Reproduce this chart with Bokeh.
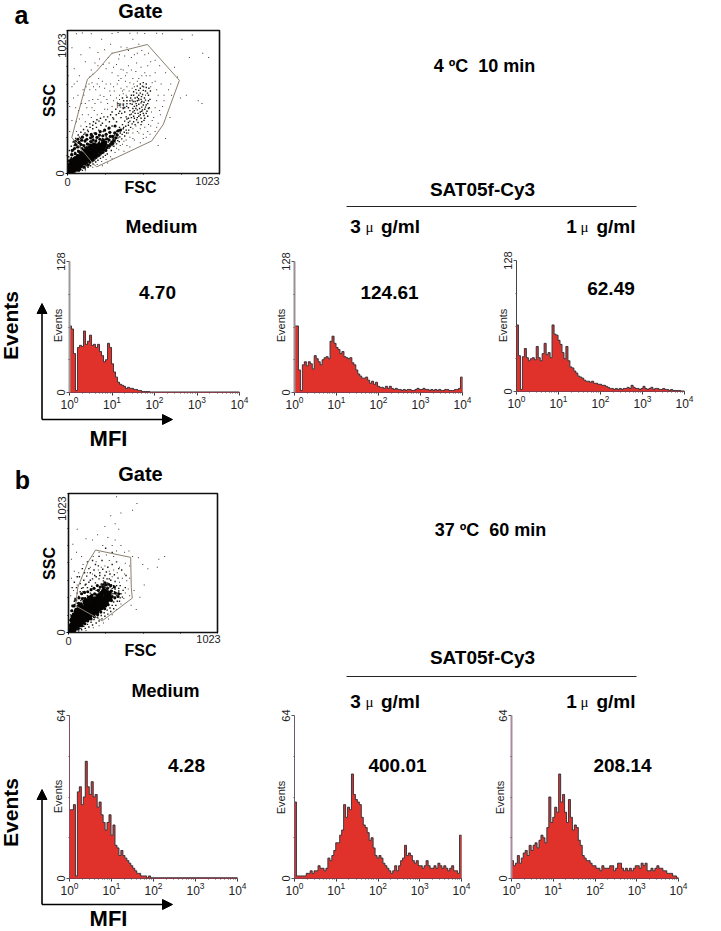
import math
from bokeh.plotting import figure
from bokeh.models import Label, Arrow, NormalHead, Range1d, FixedTicker, LogTicker
from bokeh.embed import file_html
from bokeh.resources import INLINE

FONT = "Liberation Sans"
RED = "#e0322b"
W, H = 721, 931

# ---------- histogram data (events per channel group, low to high MFI) ----------
a_medium = [65,62,38,2,44,46,45,60,47,50,56,46,47,44,47,40,36,30,32,48,44,28,20,15,10,8,7,6,4,5,4,4,3,3,2,2,1,1,1,1,0.5,0.5,0.5,0.5,0.5,0.5,0.5,0.5,0.5,0.5,0.5,0.5,0.5,0.5,0.5,0.5,0.5,0.5,0.5,0.5,0.5,0.5,0.5,0.5,0.5,0.5,0.5,0.5,0.5,0.5,0.5,0.5,0.5,0.5,0.5,0.5,0.5,0.5,0.5,0.5,0.5,0.5,0.5,0.5,0.5]
a_3ug = [65,65,22,2,27,30,26,30,28,23,36,33,30,27,32,34,35,33,50,55,48,44,42,38,40,35,34,33,34,29,27,22,18,16,14,14,15,12,9,11,8,10,6,5,5,4,6,4,6,4,3,4,3,3,2,3,2,3,3,2,2,3,4,3,3,4,3,3,2,3,2,3,2,3,2,2,3,3,2,2,2,3,3,4,15]
a_1ug = [65,35,2,34,42,33,30,32,33,31,44,33,30,37,47,36,38,33,65,56,55,50,46,38,32,44,30,24,23,20,18,15,14,13,11,10,10,9,10,8,8,7,7,6,6,5,4,3,3,2,3,2,3,2,3,3,4,3,6,4,3,3,2,3,5,3,2,3,4,2,3,3,2,2,3,2,2,1,2,1,1,1,1,0.5,0.5]
b_medium = [27,27,29,1,34,36,29,32,46,36,33,38,32,33,28,30,25,22,19,22,25,17,21,13,12,9,11,9,8,7,6,5,4,3,2,2,1,1,1,0.3,1,0.3,0.3,0.3,0.3,0.3,0.3,0.3,0.3,0.3,0.3,0.3,0.3,0.3,0.3,0.3,0.3,0.3,0.3,0.3,0.3,0.3,0.3,0.3,0.3,0.3,0.3,0.3,0.3,0.3,0.3,0.3,0.3,0.3,0.3,0.3,0.3,0.3,0.3,0.3,0.3,0.3,0.3,0.3,0.3]
b_3ug = [30,1,1,1,1,1,2,2,3,2,3,3,5,4,4,3,4,8,7,9,11,14,14,17,19,29,24,28,27,41,33,31,30,29,24,21,20,18,15,16,12,9,8,9,8,6,5,4,3,2,3,5,3,5,7,8,13,9,10,9,7,6,7,5,5,4,5,7,5,4,4,5,4,6,5,4,5,4,3,4,5,3,3,2,17]
b_1ug = [7,5,6,9,6,8,10,11,9,13,11,13,14,12,15,17,16,14,20,32,22,24,28,26,41,30,33,26,22,31,24,19,21,20,15,13,9,8,7,7,6,5,5,4,4,3,5,4,4,4,5,5,3,4,6,6,4,3,4,3,4,3,4,5,5,4,6,5,6,3,3,4,3,4,5,4,4,3,3,2,2,2,1,1,0.3]

# ---------- gate data: FSC, SSC pairs ----------
a_core = [(15,15),(30,20),(25,40),(45,35),(40,60),(60,45),(65,70),(55,95),(85,60),(90,90),(75,115),(110,80),(115,110),(100,135),(135,100),(140,130),(125,155),(160,120),(165,150),(150,175),(185,140),(190,170),(175,195),(210,165),(215,195),(235,185),(245,215),(70,35),(20,55),(35,85)]
a_dense = [(30,100),(28,135),(32,165),(48,112),(52,142),(47,178),(55,208),(72,92),(68,128),(75,158),(70,190),(78,222),(92,55),(95,125),(88,150),(98,178),(90,208),(96,238),(112,45),(118,70),(108,140),(115,170),(110,200),(118,232),(128,75),(138,60),(132,125),(140,150),(128,185),(135,210),(130,245),(150,80),(158,95),(152,140),(150,205),(158,228),(155,255),(172,95),(178,115),(170,180),(178,210),(172,240),(168,265),(192,115),(198,130),(195,205),(190,232),(198,258),(212,130),(220,145),(225,175),(212,215),(218,245),(215,275),(235,150),(242,165),(250,190),(235,215),(242,240),(238,270),(258,165),(265,185),(272,200),(258,225),(265,248),(260,280),(282,195),(290,210),(298,225),(280,240),(288,265),(285,295),(305,215),(312,235),(305,265),(318,290),(325,255),(335,275),(340,305),(355,310),(320,340),(280,325),(250,310),(220,300),(190,285),(160,280),(130,275),(100,260),(70,245),(50,230),(10,90),(12,55),(8,20)]
a_mid = [(20,110),(35,130),(50,150),(70,165),(85,190),(60,185),(100,205),(115,185),(130,215),(150,230),(170,225),(195,240),(120,240),(90,235),(210,260),(235,250),(260,265),(285,290),(300,270),(310,250),(330,300),(355,290),(340,255),(320,225),(300,200),(280,180),(260,165),(245,150),(225,135),(205,120),(185,100),(165,85),(145,65),(125,55),(105,40),(90,30),(350,330),(375,320),(370,350),(395,310),(410,345),(425,330),(445,370),(430,400),(465,385),(480,410),(455,430),(490,440),(510,430),(470,455),(500,475),(520,460),(535,445),(480,495),(450,480),(515,510),(530,490),(495,530),(470,520),(545,520),(440,440),(420,420),(400,390),(385,375),(520,395),(500,370),(540,410),(550,470),(505,565),(525,590),(480,560),(545,560),(455,540),(410,470),(385,440),(360,400),(330,370),(300,340),(275,320),(240,300),(210,310),(180,290),(155,275),(490,610),(530,640),(460,600),(510,650),(260,340),(225,345),(195,330),(170,320),(140,300),(110,280),(80,260),(60,230),(45,200),(310,390),(345,430),(290,420),(375,490),(340,500),(400,520),(430,560),(370,540),
(8,30),(12,75),(18,95),(28,115),(40,105),(52,120),(66,135),(78,148),(92,160),(105,170),(118,165),(132,178),(145,190),(158,200),(172,210),(186,218),(198,205),(215,228),(228,238),(242,232),(256,245),(272,250),(288,262),(302,255),(318,275),(332,285),(346,310),(362,315),(378,330),(392,338),(275,225),(290,215),(305,240),(322,240),(338,235),(352,262),(368,280),(382,295),(398,290),(412,310),(295,165),(268,140),(255,130),(240,118),(222,108),(205,95),(190,82),(172,68),(155,55),(138,45),(120,32),(100,22),(78,18),(55,12),(35,8),(312,195),(330,212),(348,228),(365,248),(385,268),(28,145),(42,170),(58,198),(72,220),(88,250),(102,265),(118,290),(135,310),(152,330),(170,345),(190,360),(212,375),(235,360),(258,385),(282,370),(305,400),(328,420),(352,445),(375,465),(398,480),(422,500),(442,515),(462,500),(478,535),(498,550),(518,540),(538,575),(558,590),(548,610),(512,620),(490,640),(470,625),(445,585),(425,540),(400,545),(378,520),(352,490),(325,460),(300,440),(270,405),(245,405),(222,395),(198,385),(175,370),(150,355),(128,335),(108,315),(90,295),(72,275),(55,250),(38,225),(25,195),(12,165),(8,120),
(410,365),(435,355),(455,350),(475,365),(495,395),(515,415),(530,430),(450,395),(470,400),(490,420),(505,455),(485,465),(460,465),(440,465),(420,450),(435,495),(465,485),(495,505),(510,490),(525,525),(500,515),(480,525),(455,515),(435,525),(470,545),(490,575),(510,595),(530,615),(505,625),(480,595),(465,575),(445,560),(420,520),(400,500),(385,470),(365,430),(395,405),(410,395),(430,425),(450,450),(445,410),(420,375),(475,430),(500,445),(525,475),(540,500),(555,530),(545,465),(515,380),(495,350)]
a_sparse = [(100,1005),(160,1000),(300,1002),(340,1008),(420,1003),(470,1006),(520,1002),(600,1004),(640,1000),(230,960),(290,925),(250,885),(360,905),(410,880),(450,850),(385,840),(500,880),(545,860),(590,810),(620,770),(660,720),(695,640),(720,760),(820,830),(950,830),(910,860),(880,520),(905,500),(800,560),(760,540),(690,400),(660,250),(610,200),(30,620),(40,540),(15,480),(45,750),(90,850),(120,800),(170,710),(210,680),(240,780),(300,720),(330,780),(360,745),(410,770),(460,730),(500,700),(540,770),(590,720),(630,640),(600,600),(570,650),(440,680),(390,700),(345,665),(290,640),(250,610),(200,640),(150,600),(110,560),(95,500),(75,450),(130,470),(170,530),(220,560),(265,530),(315,590),(360,610),(400,620),(435,610),(300,480),(250,460),(200,420),(160,400),(120,370),(90,340),(60,300),(330,540),(375,570),(445,640),(480,680),(530,700),(560,620),(600,520),(620,450),(580,400),(560,340),(590,300),(540,300),(510,280),(470,300),(440,290),(420,260),(395,240),(370,210),(345,170),(320,150),(290,120),(260,100),(230,85),(200,65),(170,45),(120,20),(420,190),(380,160),(450,240),(490,220),(530,260),(610,360),(565,440),(525,560),(345,820),(275,830),(205,770),(150,690),(175,620),(70,560),(55,470),(30,380),(15,300),(700,560),(650,520),(740,690),(770,960),(840,990),(60,1000),(30,900),(5,700),(5,500),(440,960),(480,925),
(120,500),(145,520),(165,470),(185,500),(205,530),(225,510),(245,550),(270,500),(290,560),(310,520),(335,510),(350,560),(370,590),(395,560),(415,590),(450,620),(470,660),(420,650),(390,660),(360,680),(335,640),(310,620),(285,590),(260,640),(235,660),(215,620),(190,600),(165,650),(145,640),(125,620),(105,600),(160,740),(185,790),(215,820),(260,750),(280,790),(310,760),(340,700),(375,740),(400,720),(430,740),(465,790),(495,760),(520,720),(555,700),(590,660),(610,560),(590,470),(570,380),(545,350),(520,330),(490,320),(460,340),(440,320),(410,290),(380,230),(355,200),(330,180),(300,105),(270,75),(235,55),(400,200),(440,250),(480,290),(510,250),(555,280),(600,330),(625,420),(640,480),(650,560),(680,600),(300,860),(350,850),(400,900),(520,850),(560,800),(470,860),(430,830),(205,865),(150,900),(80,700),(65,660),(45,640),(100,420),(80,390),(60,370),(140,420),(180,450),(230,430),(270,460),(350,530),(380,600)]
a_gate_fsc = [29,67,134,197,298,538,753,645,567,197,175,29]
a_gate_ssc = [257,412,674,733,859,923,666,352,233,48,67,257]

b_core = [(20,15),(35,25),(25,50),(50,45),(40,80),(70,60),(60,100),(45,125),(90,80),(85,115),(70,145),(115,100),(110,135),(95,165),(140,120),(135,155),(120,185),(165,140),(160,175),(145,205),(190,155),(185,195),(170,225),(210,180),(210,215),(195,245),(235,200),(235,240),(220,270),(255,225),(260,265),(245,300),(280,250),(275,285),(120,225),(150,250),(80,190),(60,160),(30,90)]
b_dense = [(25,120),(22,160),(30,195),(45,155),(42,200),(50,240),(68,30),(75,175),(70,215),(72,255),(92,50),(95,145),(88,210),(95,250),(90,285),(112,65),(118,165),(112,210),(115,250),(110,295),(132,85),(138,100),(130,215),(138,255),(132,300),(155,100),(158,205),(152,235),(160,275),(155,315),(178,115),(172,250),(180,285),(175,325),(200,130),(195,275),(205,310),(198,345),(222,150),(228,175),(225,295),(218,335),(248,175),(255,195),(240,330),(250,365),(272,205),(268,325),(275,355),(295,235),(300,265),(295,305),(290,345),(318,255),(322,290),(315,335),(340,265),(345,285),(240,345),(255,350),(245,355),(235,340)]
b_mid = [(15,60),(15,130),(25,165),(40,190),(60,215),(85,235),(105,255),(130,270),(150,290),(175,280),(190,310),(215,320),(225,355),(250,345),(270,330),(290,310),(305,285),(320,260),(310,225),(300,200),(285,180),(265,165),(245,145),(225,125),(200,110),(175,95),(155,75),(130,60),(105,45),(85,30),(60,20),(40,230),(70,265),(100,300),(130,330),(160,340),(185,365),(210,395),(240,380),(265,365),(295,350),(320,320),(340,290),(355,255),(335,230),(345,325),(320,375),(280,395),(250,420),(215,440),(180,420),(150,385),(115,350),(90,325),(245,345),(238,335),(252,330),(232,352),
(10,30),(10,90),(20,110),(30,140),(50,175),(65,195),(80,215),(100,232),(118,248),(135,262),(155,270),(175,262),(195,280),(210,295),(230,310),(250,318),(270,310),(285,335),(300,325),(315,300),(330,275),(345,305),(360,285),(370,260),(350,230),(325,200),(310,175),(290,155),(270,135),(250,120),(230,100),(210,85),(190,70),(165,55),(140,40),(115,30),(90,20),(70,12),(45,8),(25,200),(45,250),(60,290),(80,300),(100,330),(120,355),(140,370),(165,395),(190,410),(215,420),(240,400),(265,395),(290,385),(310,345),(330,345),(355,345),(375,310),(390,330),(340,400),(315,425),(285,430),(260,445),(235,465),(205,490),(175,460),(150,440),(125,415),(105,385),(80,360),(55,330),(75,410),(110,440),(140,470),(185,500),(230,530),(270,480),(300,500),(330,520),(365,460),(395,420),(345,470),(300,590),(255,620),(210,560),(165,530),(130,520),(95,470),(60,410),(40,370),(25,330)]
b_sparse = [(470,950),(330,1000),(440,900),(360,880),(290,860),(320,800),(345,760),(250,780),(200,720),(270,700),(320,680),(300,640),(235,640),(165,680),(120,690),(60,760),(30,650),(55,590),(90,560),(20,540),(40,450),(70,440),(20,400),(100,500),(130,440),(150,480),(170,560),(190,520),(210,590),(225,480),(260,570),(280,530),(250,490),(310,560),(330,600),(360,640),(385,590),(415,600),(440,560),(480,550),(510,500),(545,470),(610,480),(420,490),(390,510),(350,480),(310,460),(280,450),(420,400),(400,380),(385,430),(370,400),(350,370),(410,320),(390,290),(420,270),(380,250),(360,210),(330,170),(300,130),(275,100),(240,70),(210,50),(170,35),(120,15),(430,200),(465,170),(520,350),(490,260),(450,310),(620,540),(660,560),(300,410),(335,440),(205,460),(165,430),(90,400),(60,350),(35,310),(15,270)]
b_gate_fsc = [64,133,186,427,431,438,232,48,64]
b_gate_ssc = [332,516,607,553,332,253,86,197,332]

BL, BR, BT, BB = 40, 24, 14, 30


def unz(pts):
    return [q[0] for q in pts], [q[1] for q in pts]


def panel(frame, **kw):
    fl, ft, fr, fb = frame
    p = figure(width=round(fr - fl) + BL + BR, height=round(fb - ft) + BT + BB,
               min_border_left=BL, min_border_right=BR, min_border_top=BT, min_border_bottom=BB,
               output_backend="svg", toolbar_location=None,
               background_fill_color=None, border_fill_color=None,
               styles={"position": "absolute", "left": f"{round(fl) - BL}px", "top": f"{round(ft) - BT}px"}, **kw)
    p.grid.visible = False
    return p


def style_axis(ax):
    ax.major_label_text_font = FONT
    ax.major_label_text_font_size = "11px"
    ax.major_label_text_color = "#222222"
    ax.axis_label = None


def gate(frame, core, dense, mid, sparse, gx, gy, r1):
    p = panel(frame, x_range=Range1d(0, 1023), y_range=Range1d(0, 1023))
    p.outline_line_color = "#111111"
    p.outline_line_width = 1.6
    p.xaxis.ticker = FixedTicker(ticks=[0], minor_ticks=[256, 512, 768, 1023])
    p.yaxis.ticker = FixedTicker(ticks=[0], minor_ticks=[128, 256, 384, 512, 640, 768, 896, 1023])
    for ax in (p.xaxis[0], p.yaxis[0]):
        style_axis(ax)
        ax.major_tick_out = 2
        ax.major_tick_in = 0
        ax.minor_tick_out = 1
        ax.minor_tick_in = 0
        ax.major_label_standoff = 2
        ax.axis_line_color = "#111111"
    p.yaxis.major_label_orientation = "vertical"
    x, y = unz(sparse)
    p.scatter(x, y, marker="square", size=1.0, color="#3a362c", line_color=None)
    x, y = unz(mid)
    p.scatter(x, y, marker="square", size=1.4, color="#161410", line_color=None)
    x, y = unz(dense)
    p.scatter(x, y, marker="circle", size=3.2, color="#0a0806", line_color=None)
    x, y = unz(core)
    p.scatter(x, y, marker="circle", size=6.5, color="#050403", line_color=None)
    p.line(gx, gy, line_color="#8a8070", line_width=1)
    p.text([r1[0]], [r1[1]], text=["R1"], text_font_size="7px", text_color="#333333",
           text_align="center", text_baseline="middle")
    return p


def hist(frame, vals, ymax, axis_color, axis_w):
    p = panel(frame, x_axis_type="log", x_range=Range1d(1, 10000), y_range=Range1d(0, ymax))
    p.outline_line_color = None
    n = len(vals)
    edges = [10 ** (4 * i / n) for i in range(n + 1)]
    ys = list(vals) + [0]
    p.varea_step(x=edges, y1=[0] * (n + 1), y2=ys, step_mode="after", fill_color=RED)
    p.step(edges, ys, mode="after", line_color="#8c8794", line_width=1.1, line_alpha=0.55)
    p.step(edges, ys, mode="after", line_color="#1a1014", line_width=0.7)
    p.xaxis.ticker = LogTicker(num_minor_ticks=10)
    p.yaxis.ticker = FixedTicker(ticks=[0, ymax], minor_ticks=[ymax * k / 4 for k in (1, 2, 3)])
    p.yaxis.major_label_orientation = "vertical"
    for ax in (p.xaxis[0], p.yaxis[0]):
        style_axis(ax)
        ax.major_tick_in = 0
        ax.minor_tick_in = 0
        ax.major_tick_out = 3
        ax.minor_tick_out = 1
        ax.major_label_standoff = 0
    p.yaxis.major_label_standoff = 2
    p.xaxis.major_label_text_font_size = "12px"
    p.xaxis.axis_line_color = "#8a3a4a"
    p.xaxis.major_tick_line_color = "#333333"
    p.xaxis.minor_tick_line_color = "#555555"
    p.yaxis.axis_line_color = axis_color
    p.yaxis.axis_line_width = axis_w
    p.yaxis.major_tick_line_color = "#555555"
    p.yaxis.minor_tick_line_color = "#555555"
    return p


# ---------- transparent page overlay for all the texts and arrows: its data units are page pixels ----------
top = figure(width=W, height=H, x_range=Range1d(0, W), y_range=Range1d(H, 0),
             min_border=0, output_backend="svg", toolbar_location=None,
             background_fill_color=None, border_fill_color=None,
             styles={"position": "absolute", "left": "0px", "top": "0px", "pointer-events": "none"})
top.axis.visible = False
top.grid.visible = False
top.outline_line_color = None


def T(px, py, s, size=18, bold=True, angle=0, font=FONT, color="black"):
    top.add_layout(Label(x=px, y=py, text=s, text_font=font, text_font_size=f"{size}px",
                         text_font_style="bold" if bold else "normal",
                         text_align="center", text_baseline="middle", text_color=color,
                         angle=angle, angle_units="rad"))


def A(x1, y1, x2, y2):
    top.add_layout(Arrow(x_start=x1, y_start=y1, x_end=x2, y_end=y2, line_width=1.6, line_color="black",
                         end=NormalHead(size=10, fill_color="black", line_color="black")))


def sat_header(cond, cond_x, cond_y, sat_y, rule_y, dose_y):
    T(cond_x, cond_y, cond)
    T(482, sat_y, "SAT05f-Cy3", size=19)
    top.line([346, 636], [rule_y, rule_y], line_color="#222222", line_width=1)
    for digit, dx, mux, gx in (("3", 355, 369, 400), ("1", 571, 584, 615.5)):
        T(dx, dose_y, digit, size=19)
        T(mux, dose_y, "\u03bc", size=15, bold=False, font="Liberation Serif")
        T(gx, dose_y, "g/ml", size=19)


V = math.pi / 2
SMALL = dict(size=11, bold=False, color="#222222")

# ---------- panel a ----------
ga = gate((67, 29.5, 219, 172.7), a_core, a_dense, a_mid, a_sparse, a_gate_fsc, a_gate_ssc, (360, 490))
T(21, 14, "a", size=25)
T(140, 10, "Gate", size=20)
T(49, 100, "SSC", size=16, angle=V)
T(140, 187, "FSC", size=16)
T(61, 45, "1023", angle=V, **SMALL)
T(207, 180, "1023", **SMALL)
T(161, 226, "Medium", size=19)
sat_header("4 \u00baC\u00a0\u00a010 min", 484, 65, 189, 206, 226)

h1 = hist((69, 261, 238.5, 392), a_medium, 128, "#9a9a9a", 2)
T(157, 292, "4.70", size=19)
T(57, 325, "Events", angle=V, **SMALL)
T(10, 325, "Events", size=21, angle=V)
T(108, 438, "MFI", size=22)
A(41.5, 419, 41.5, 303)
A(41.5, 419, 172, 419)

h2 = hist((293.5, 261, 461, 392), a_3ug, 128, "#9a8f96", 2)
T(389, 291.5, "124.61", size=19)
T(280.6, 325, "Events", angle=V, **SMALL)

h3 = hist((515.7, 259.5, 684, 390.7), a_1ug, 128, "#444444", 1)
T(610.5, 287.5, "62.49", size=19)
T(502.7, 325, "Events", angle=V, **SMALL)

# ---------- panel b ----------
gb = gate((68, 493, 216.7, 631.7), b_core, b_dense, b_mid, b_sparse, b_gate_fsc, b_gate_ssc, (250, 345))
T(22, 479, "b", size=25)
T(140, 473, "Gate", size=20)
T(49, 563, "SSC", size=16, angle=V)
T(140, 650, "FSC", size=16)
T(61, 508, "1023", angle=V, **SMALL)
T(208, 638, "1023", **SMALL)
T(165, 690, "Medium", size=18)
sat_header("37 \u00baC\u00a0\u00a060 min", 490, 529, 657, 676, 701)

h4 = hist((69, 715, 237.5, 877.7), b_medium, 64, "#8a4a62", 1)
T(186, 765, "4.28", size=19)
T(57, 796, "Events", angle=V, **SMALL)
T(10, 812, "Events", size=21, angle=V)
T(108, 918, "MFI", size=22)
A(41.5, 904, 41.5, 789)
A(41.5, 904, 172, 904)

h5 = hist((293.7, 715, 461, 877.7), b_3ug, 64, "#6a5a72", 1)
T(397, 765, "400.01", size=19)
T(280.6, 797, "Events", angle=V, **SMALL)

h6 = hist((511, 715, 678, 877.7), b_1ug, 64, "#a98c9c", 2)
T(622, 765, "208.14", size=19)
T(499, 797, "Events", angle=V, **SMALL)

roots = [ga, h1, h2, h3, gb, h4, h5, h6, top]
open("out.html", "w").write(file_html(roots, INLINE))
